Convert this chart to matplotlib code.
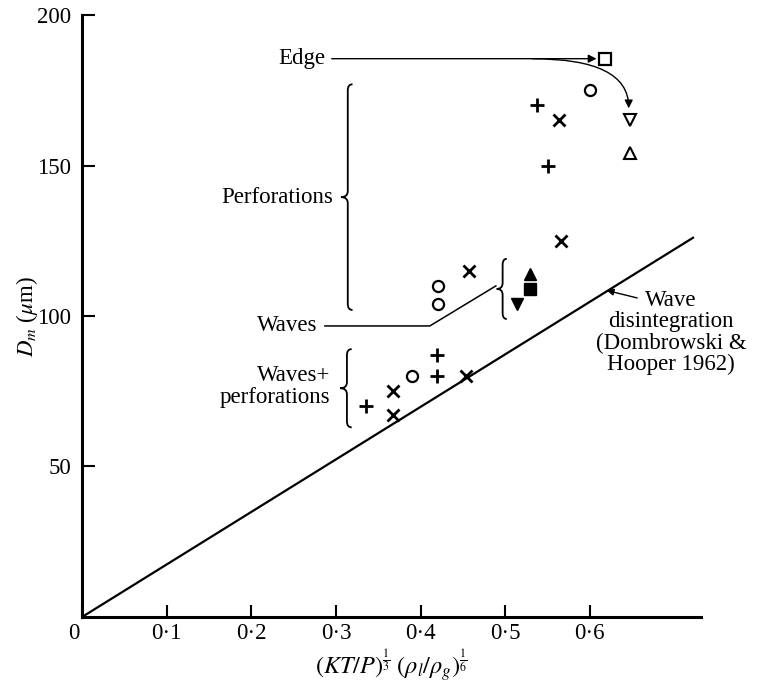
"""
Mean drop size against sheet parameter, with break-up regimes annotated
"""

import numpy as np
import matplotlib.pyplot as plt
import matplotlib.transforms as mtrans
from matplotlib.path import Path
from matplotlib.patches import PathPatch

# ---------------------------------------------------------------------------- #
# Data
# ---------------------------------------------------------------------------- #
plus_x = [0.538, 0.551, 0.336, 0.419, 0.419]
plus_y = [170, 150, 70, 87, 80]

cross_x = [0.564, 0.566, 0.457, 0.367, 0.367, 0.454]
cross_y = [165, 125, 115, 75, 67, 80]

circle_x = [0.600, 0.421, 0.421, 0.390]
circle_y = [175, 110, 104, 80]

open_square_x, open_square_y = [0.618], [185.5]
open_down_x, open_down_y = [0.647], [165]
open_up_x, open_up_y = [0.648], [154]

filled_up_x, filled_up_y = [0.529], [114]
filled_square_x, filled_square_y = [0.529], [109]
filled_down_x, filled_down_y = [0.514], [104]

# wave disintegration theory line (Dombrowski & Hooper 1962)
theory_x = [0.0, 0.722]
theory_y = [0.0, 126]

xticks = [0, 0.1, 0.2, 0.3, 0.4, 0.5, 0.6]
xtick_labels = ['0', '0·1', '0·2', '0·3', '0·4', '0·5', '0·6']
yticks = [50, 100, 150, 200]
ytick_labels = ['50', '100', '150', '200']

# ---------------------------------------------------------------------------- #
# Style
# ---------------------------------------------------------------------------- #
plt.rcParams['font.family'] = ['Liberation Serif', 'DejaVu Serif']
plt.rcParams['mathtext.fontset'] = 'stix'
fs = 16.5


def brace(ax, x, y0, y1, w):
    """Left-pointing curly brace at x, spanning y0..y1, tip at x - w"""
    ym = 0.5 * (y0 + y1)
    verts = [(x + w * 0.7, y1), (x, y1), (x, y1 - 2),
             (x, ym + 2), (x, ym), (x - w, ym),
             (x, ym), (x, ym - 2),
             (x, y0 + 2), (x, y0), (x + w * 0.7, y0)]
    codes = [Path.MOVETO, Path.CURVE3, Path.CURVE3,
             Path.LINETO, Path.CURVE3, Path.CURVE3,
             Path.CURVE3, Path.CURVE3,
             Path.LINETO, Path.CURVE3, Path.CURVE3]
    ax.add_patch(PathPatch(Path(verts, codes), fc='none', ec='black', lw=1.3))


fig = plt.figure(figsize=(7.6, 6.84), dpi=100)
ax = fig.add_axes([0.108, 0.098, 0.815, 0.880])

ax.plot(theory_x, theory_y, color='black', lw=1.6)

mk = dict(linestyle='none', color='black')
ax.plot(plus_x, plus_y, marker='+', ms=10, mew=2, **mk)
ax.plot(cross_x, cross_y, marker='x', ms=8, mew=2, **mk)
ax.plot(circle_x, circle_y, marker='o', ms=8, mew=1.6, mfc='white', **mk)
ax.plot(open_square_x, open_square_y, marker='s', ms=8, mew=1.6, mfc='white', **mk)
ax.plot(open_down_x, open_down_y, marker='v', ms=8, mew=1.5, mfc='white', **mk)
ax.plot(open_up_x, open_up_y, marker='^', ms=8, mew=1.5, mfc='white', **mk)
ax.plot(filled_up_x, filled_up_y, marker='^', ms=9, **mk)
ax.plot(filled_square_x, filled_square_y, marker='s', ms=8, **mk)
ax.plot(filled_down_x, filled_down_y, marker='v', ms=9, **mk)

# ---------------------------------------------------------------------------- #
# Annotations
# ---------------------------------------------------------------------------- #
ax.text(0.288, 185.5, 'Edge', ha='right', va='center', fontsize=fs)
ax.annotate('', xy=(0.608, 185.5), xytext=(0.295, 185.5),
            arrowprops=dict(arrowstyle='-|>', color='black', lw=1.0,
                            mutation_scale=12, shrinkA=0, shrinkB=0))
ax.annotate('', xy=(0.646, 169), xytext=(0.532, 185.5),
            arrowprops=dict(arrowstyle='-|>', color='black', lw=1.0,
                            mutation_scale=12, shrinkA=0, shrinkB=0,
                            connectionstyle='angle3,angleA=0,angleB=90'))

brace(ax, 0.314, 102, 177, 0.008)
ax.text(0.297, 139.5, 'Perforations', ha='right', va='center', fontsize=fs)

brace(ax, 0.497, 99, 119, 0.007)
ax.plot([0.489, 0.411, 0.287], [110, 96.7, 96.7], color='black', lw=1.1)
ax.text(0.278, 96.7, 'Waves', ha='right', va='center', fontsize=fs)

brace(ax, 0.313, 63, 89, 0.008)
ax.text(0.293, 76.5, 'Waves+\nperforations', ha='right', va='center',
        fontsize=fs, linespacing=1.05, multialignment='right')

ax.annotate('', xy=(0.62, 108.5), xytext=(0.656, 106),
            arrowprops=dict(arrowstyle='-|>', color='black', lw=1.0,
                            mutation_scale=10, shrinkA=0, shrinkB=0))
ax.text(0.696, 94.5, 'Wave\ndisintegration\n(Dombrowski &\nHooper 1962)',
        ha='center', va='center', fontsize=fs, linespacing=1.0)

# ---------------------------------------------------------------------------- #
# Axes
# ---------------------------------------------------------------------------- #
ax.set_xlim(0, 0.732)
ax.set_ylim(0, 200)
for side in ['top', 'right']:
    ax.spines[side].set_visible(False)
for side in ['left', 'bottom']:
    ax.spines[side].set_linewidth(2.2)

ax.set_xticks(xticks)
ax.set_xticklabels(xtick_labels, fontsize=fs)
ax.set_yticks(yticks)
ax.set_yticklabels(ytick_labels, fontsize=fs)
ax.tick_params(axis='x', direction='in', length=9, width=1.5, pad=4)
ax.tick_params(axis='y', direction='in', length=9, width=1.5, pad=8)

# origin label sits a little left of the axis corner
zero = ax.get_xticklabels()[0]
zero.set_transform(zero.get_transform()
                   + mtrans.ScaledTranslation(-8 / 100, 0, fig.dpi_scale_trans))

ax.set_xlabel(r'$(KT/P)^{\frac{1}{3}}\;(\rho_l/\rho_g)^{\frac{1}{6}}$',
              fontsize=fs + 1, labelpad=3)
ax.set_ylabel(r'$\boldsymbol{D_m}$ ($\mu$m)', fontsize=fs, labelpad=-2)

fig.savefig('out.png', dpi=100)
plt.close()
